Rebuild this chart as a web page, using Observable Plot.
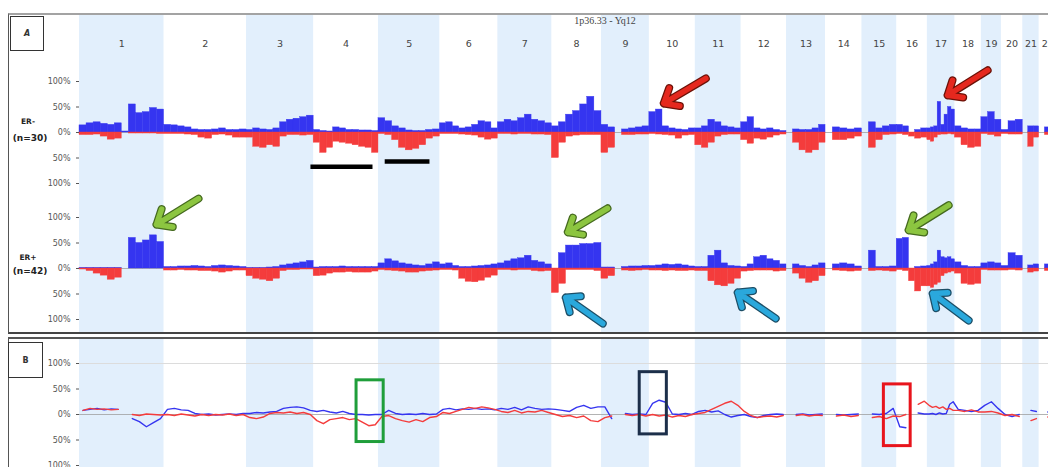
<!DOCTYPE html>
<html><head><meta charset="utf-8">
<script src="https://cdn.jsdelivr.net/npm/d3@7"></script>
<script src="https://cdn.jsdelivr.net/npm/@observablehq/plot@0.6"></script>
<style>
html,body{margin:0;padding:0;background:#fff;}
#root{position:relative;width:1048px;height:467px;overflow:hidden;font-family:"DejaVu Sans",sans-serif;background:#fff;}
.abs{position:absolute;}
</style></head><body><div id="root"></div>
<script>
// ---------- data ----------
const chromosomes = ["1","2","3","4","5","6","7","8","9","10","11","12","13","14","15","16","17","18","19","20","21","22"];
const chromLengthsMb = [249.25,243.20,198.02,191.15,180.92,171.12,159.14,146.36,141.21,135.53,135.01,133.85,115.17,107.35,102.53,90.35,81.20,78.08,59.13,63.03,48.13,51.30];
const yTicks = [-100,-50,0,50,100];

// ER- (n=30): % of tumours with gain / loss, evenly spaced bins along each chromosome
const erNegGain = [
 [14,18,20,17,15,18,2,55,38,40,48,45],[15,14,12,10,6,5,5,6,8,5,5,6],[5,8,6,5,8,20,25,27,30,33],
 [5,3,2,10,8,5,5,4,4,3],[28,22,12,8,4,3,3,5,6],[18,20,12,8,10,15,22,20,8],[20,25,22,28,35,25,22,18],
 [12,20,35,42,55,70,42],[15,10,0,6,8,10,12],[40,45,12,8,6,5,8],[8,12,25,20,12,10,8],[20,30,8,6,8,5,3],
 [0,6,5,5,8,15],[0,10,8,6,8],[0,20,8,12,15],[15,12,0,5,8],[8,10,12,60,15,35,50,45],[12,8,6,6],
 [30,40,25],[5,22,25],[0,12,12],[0,10,10]];
const erNegLoss = [
 [5,5,4,8,14,12,0,2,2,2,2,3],[3,3,3,4,5,10,12,5,4,6,10,10],[10,28,30,25,28,8,5,5,6,5],
 [20,40,30,18,20,22,25,28,30,40],[3,5,15,30,35,32,25,12,8],[3,3,3,4,5,6,10,14,12],[3,3,4,3,3,4,4,5],
 [50,20,8,6,5,5,5],[40,30,0,5,5,4,4],[3,4,5,6,12,6,5],[25,30,20,8,5,4,4],[15,22,12,14,10,6,4],
 [0,20,35,40,35,20],[0,15,15,12,8],[0,30,15,5,4],[3,5,8,12,10],[15,18,10,5,4,4,3,4],[10,25,30,28],
 [3,5,8],[3,4,4],[0,28,10],[0,5,5]];
// ER+ (n=42)
const erPosGain = [
 [1,1,1,1,1,1,0,60,50,55,65,52],[3,3,4,4,5,4,3,5,6,5,4,3],[1,1,1,2,3,6,8,10,12,15],
 [2,3,3,3,4,3,3,3,3,3],[10,18,14,10,8,6,5,8,12],[8,10,5,3,3,4,5,6,8],[10,14,18,20,25,15,12,8],
 [0,30,45,45,48,48,50],[2,2,0,3,4,4,5],[5,6,8,7,8,6,4],[3,3,25,35,10,5,4],[3,8,22,25,18,15,8],
 [0,8,5,3,6,10],[0,8,10,8,4],[0,35,3,3,4],[58,60,0,3,4],[5,8,12,35,22,20,22,18],[12,5,3,3],
 [10,12,10],[5,30,25],[0,6,8],[0,8,6]];
const erPosLoss = [
 [2,5,10,14,22,18,0,0,0,0,0,0],[4,4,3,4,4,5,5,6,8,6,4,4],[15,20,22,25,20,5,3,3,2,2],
 [15,14,10,8,8,7,8,8,8,6],[3,4,5,6,8,8,6,5,4],[3,3,4,20,26,27,24,18,14],[3,3,4,3,3,5,6,5],
 [48,30,3,3,3,3,5],[20,15,0,4,5,4,3],[4,4,5,4,5,5,4],[5,5,25,33,35,30,20],[6,5,4,4,4,6,5],
 [0,10,20,28,25,15],[0,4,5,6,5],[0,5,4,5,6],[3,5,25,45,35],[35,38,32,28,15,10,8,6],[10,30,32,30],
 [3,4,4],[4,3,4],[0,8,6],[0,5,5]];
// Panel B: difference profiles
const diffBlue = [
 [8,10,12,9,11,10,null,-8,-14,-24,-16,-8],[10,12,9,8,2,0,1,-1,0,1,0,2],[2,4,3,5,6,12,14,15,13,8],
 [6,8,5,3,6,2,0,0,-1,0],[0,8,2,0,1,0,2,0,1],[10,12,9,11,10,12,10,11,9],[12,10,14,9,15,12,10,11],
 [10,8,6,14,18,12,15],[15,-8,null,2,0,1,0],[22,28,24,1,0,2,0],[6,8,5,7,0,-5,-2],[0,-4,-6,-2,0,1,0],
 [null,0,1,-1,0,1],[null,0,-1,0,1],[null,1,0,2,12],[-24,-26,null,3,1],[1,2,0,3,1,2,20,25],[10,8,6,8],
 [18,25,12],[0,-4,0],[null,8,6],[null,5,4]];
const diffRed = [
 [8,12,10,11,9,10,null,0,-2,1,0,-1],[0,-2,1,-1,-3,0,-2,0,-1,1,-2,0],[-6,-8,-5,2,4,3,5,2,4,0],
 [-12,-18,-10,-8,-6,-10,-8,-15,-22,-20],[-4,-2,-8,-12,-15,-10,-14,-6,-4],[4,2,6,10,14,12,15,13,10],[6,4,8,3,6,5,8,4],
 [0,-4,-2,-6,-3,-12,-14],[-6,-3,null,0,-2,0,-3],[0,-3,-1,-5,-2,-4,0],[2,4,10,16,22,26,18],[6,-2,-6,-4,-3,-5,-2],
 [null,-2,0,-3,-1,-2],[null,-3,-1,-4,-2],[null,-6,-4,-8,-3],[-4,0,null,20,26],[18,14,16,12,15,10,12,8],[8,6,9,5],
 [5,6,3],[-2,0,-4],[null,-12,-8],[null,-5,-6]];

// annotations (genome Mb, %)
const arrowsErNeg = [
 {x1:1847,y1:106,x2:1723,y2:57,color:"#e5281e",edge:"#6b1208"},
 {x1:2678,y1:122,x2:2560,y2:73,color:"#e5281e",edge:"#6b1208"}];
const arrowsErPos = [
 {x1:351,y1:137,x2:227,y2:86,color:"#8cc540",edge:"#456a1f"},
 {x1:1557,y1:118,x2:1440,y2:71,color:"#8cc540",edge:"#456a1f"},
 {x1:2563,y1:124,x2:2445,y2:75,color:"#8cc540",edge:"#456a1f"},
 {x1:1543,y1:-108,x2:1434,y2:-57,color:"#2aa8dc",edge:"#1d4e66"},
 {x1:2053,y1:-98,x2:1941,y2:-47,color:"#2aa8dc",edge:"#1d4e66"},
 {x1:2622,y1:-102,x2:2516,y2:-49,color:"#2aa8dc",edge:"#1d4e66"}];
const lossBars = [{x1:681,x2:864,y:-67},{x1:900,x2:1032,y:-57}];
const boxesB = [
 {x1:817,x2:897,y1:67,y2:-54,color:"#1f9e3a"},
 {x1:1652,x2:1732,y1:83,y2:-39,color:"#1c2f4a"},
 {x1:2372,x2:2451,y1:59,y2:-62,color:"#e8141c"}];

// ---------- build ----------
const gainColor = "#3535f0", lossColor = "#f43c3c";
const offsets = chromLengthsMb.map((_, i) => d3.sum(chromLengthsMb.slice(0, i)));
const genomeEnd = d3.sum(chromLengthsMb);
const chromTable = chromosomes.map((name, i) => ({name, start: offsets[i], end: offsets[i] + chromLengthsMb[i], mid: offsets[i] + chromLengthsMb[i] / 2, shaded: i % 2 === 0}));

function toRows(series, sign) {
  const rows = [];
  series.forEach((vals, i) => {
    const n = vals.length, L = chromLengthsMb[i], o = offsets[i];
    vals.forEach((v, j) => rows.push({chr: chromosomes[i], x1: o + L * j / n, x2: o + L * (j + 1) / n, x: o + L * (j + 0.5) / n, value: v == null ? NaN : sign * v}));
  });
  return rows;
}

const root = document.getElementById("root");
function place(node, left, top) {
  const d = document.createElement("div");
  d.className = "abs"; d.style.left = left + "px"; d.style.top = top + "px";
  d.appendChild(node); root.appendChild(d); return d;
}
function box(left, top, w, h, css, html) {
  const d = document.createElement("div");
  d.className = "abs";
  d.style.cssText = `left:${left}px;top:${top}px;width:${w}px;height:${h}px;${css}`;
  if (html != null) d.innerHTML = html;
  root.appendChild(d); return d;
}

const W = 1060;
const svgStyle = "background: transparent; max-width: none; overflow: visible; font-family: 'DejaVu Sans', sans-serif;";
const common = {width: W, marginLeft: 79, marginRight: 4, x: {domain: [0, genomeEnd], axis: null}, style: svgStyle};

// frames
box(8, 13, 1060, 317, "border-top:2px solid #a3a3a3;border-left:1px solid #555;border-bottom:2px solid #444;");
box(8, 337, 1060, 140, "border-top:2px solid #555;border-left:1px solid #555;");

// chromosome shading, panel A
place(Plot.plot({...common, height: 317, marginTop: 0, marginBottom: 0, y: {domain: [0, 1], axis: null},
  marks: [
    Plot.rect(chromTable.filter(d => d.shaded), {x1: "start", x2: "end", y1: 0, y2: 1, fill: "#e2effc"}),
    Plot.text(chromTable, {x: "mid", text: "name", frameAnchor: "top", dy: 25, fontSize: 9.5, fill: "#444"})
  ]}), 0, 15);
// chromosome shading, panel B
place(Plot.plot({...common, height: 130, marginTop: 0, marginBottom: 0, y: {domain: [0, 1], axis: null},
  marks: [Plot.rect(chromTable.filter(d => d.shaded), {x1: "start", x2: "end", y1: 0, y2: 1, fill: "#e2effc"})]}), 0, 339);

function axis() {
  return Plot.axisY({ticks: yTicks, tickFormat: d => `${Math.abs(d)}%`, tickSize: 3, tickPadding: 6, fontSize: 8, color: "#555", label: null});
}
function arrowMarks(data) {
  return [
    Plot.arrow(data, {x1: "x1", y1: "y1", x2: "x2", y2: "y2", stroke: "edge", strokeWidth: 8, headLength: 40, headAngle: 80, strokeLinejoin: "miter"}),
    Plot.arrow(data, {x1: "x1", y1: "y1", x2: "x2", y2: "y2", stroke: "color", strokeWidth: 5.5, headLength: 40, headAngle: 80, strokeLinejoin: "miter"})
  ];
}
function track(gain, loss, extra) {
  return Plot.plot({...common, height: 122, marginTop: 10, marginBottom: 10,
    y: {domain: [-100, 100], axis: null}, color: {type: "identity"},
    marks: [
      Plot.ruleY([0], {stroke: "#a0a0a0", strokeWidth: 0.8}),
      Plot.rect(toRows(gain, 1).filter(d => d.value > 0), {x1: "x1", x2: "x2", y1: 0, y2: "value", fill: gainColor, stroke: gainColor, strokeWidth: 0.4}),
      Plot.rect(toRows(loss, -1).filter(d => d.value < 0), {x1: "x1", x2: "x2", y1: 0, y2: "value", fill: lossColor, stroke: lossColor, strokeWidth: 0.4}),
      axis(),
      ...extra
    ]});
}

place(track(erNegGain, erNegLoss, [
  Plot.link(lossBars, {x1: "x1", x2: "x2", y1: "y", y2: "y", stroke: "#000", strokeWidth: 4.5}),
  ...arrowMarks(arrowsErNeg)
]), 0, 71);
place(track(erPosGain, erPosLoss, arrowMarks(arrowsErPos)), 0, 207);

// panel B
place(Plot.plot({...common, height: 122, marginTop: 10, marginBottom: 10,
  y: {domain: [-100, 100], axis: null}, color: {type: "identity"},
  marks: [
    Plot.ruleY([100], {stroke: "#dcdcdc", strokeWidth: 1}),
    Plot.ruleY([0], {stroke: "#a0a0a0", strokeWidth: 0.8}),
    Plot.line(toRows(diffBlue, 1), {x: "x", y: "value", stroke: gainColor, strokeWidth: 1.4}),
    Plot.line(toRows(diffRed, 1), {x: "x", y: "value", stroke: lossColor, strokeWidth: 1.4}),
    Plot.rect(boxesB, {x1: "x1", x2: "x2", y1: "y1", y2: "y2", fill: "none", stroke: "color", strokeWidth: 3}),
    axis()
  ]}), 0, 353);

// labels
box(10, 16, 32, 33, "border:1px solid #333;display:flex;align-items:center;justify-content:center;font:italic bold 8px 'DejaVu Sans';color:#333;", "A");
box(8, 342, 33, 34, "border:1px solid #333;display:flex;align-items:center;justify-content:center;font:bold 8px 'DejaVu Sans';color:#333;", "B");
box(520, 14, 170, 13, "text-align:center;font:10px 'Liberation Serif',serif;color:#444;line-height:13px;", "1p36.33 - Yq12");
box(0, 116, 56, 12, "text-align:center;font:bold 7.5px 'DejaVu Sans';color:#222;line-height:12px;", "ER-");
box(0, 132, 60, 12, "text-align:center;font:bold 9px 'DejaVu Sans';color:#222;line-height:12px;", "(n=30)");
box(0, 252, 56, 12, "text-align:center;font:bold 7.5px 'DejaVu Sans';color:#222;line-height:12px;", "ER+");
box(0, 265, 60, 12, "text-align:center;font:bold 9px 'DejaVu Sans';color:#222;line-height:12px;", "(n=42)");
</script></body></html>
